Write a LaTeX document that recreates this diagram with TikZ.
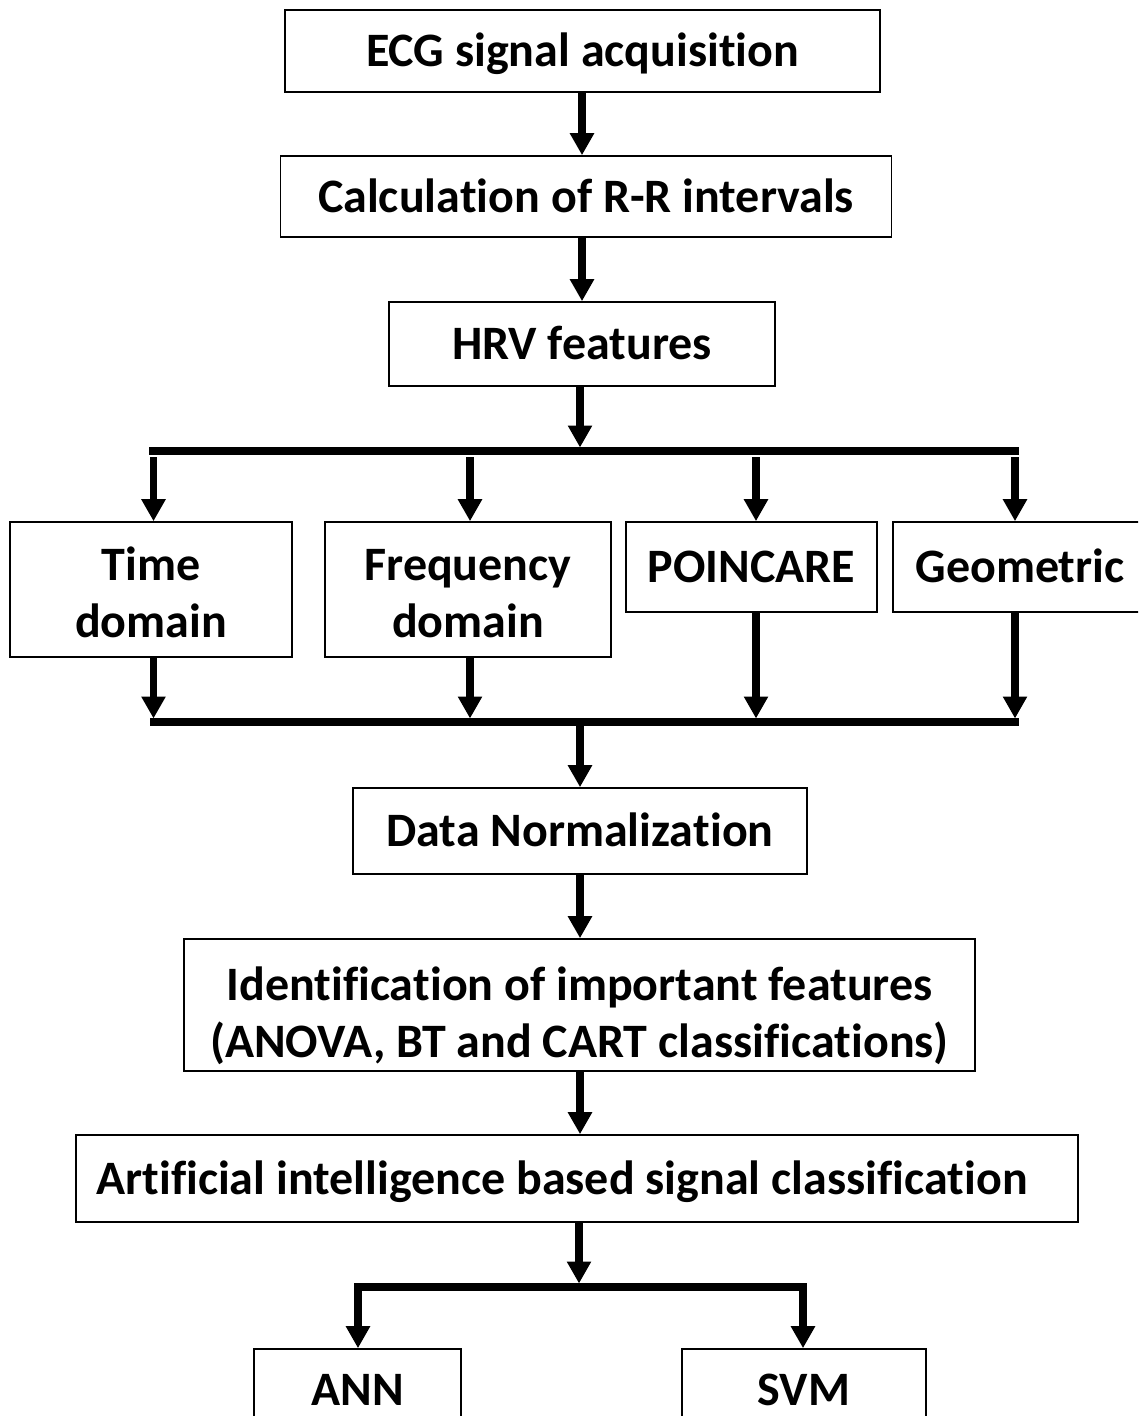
\documentclass[tikz,border=0pt]{standalone}
\usepackage{fontspec}
\setmainfont{Carlito}[Ligatures=NoCommon]
\usetikzlibrary{arrows.meta}
% breaks a letter pair so the font does not join it into a ligature
\newcommand\nolig{\kern0pt}

\tikzset{
  box/.style={draw, line width=1.6pt, inner sep=0pt, align=center,
    font=\bfseries\fontsize{48}{57}\selectfont,
    text height=31pt, text depth=0pt},
  twoline/.style={text height=88pt},
  arr/.style={line width=7.5pt, -{Triangle[width=23pt,length=22pt]}},
  bar/.style={line width=7.5pt}
}

\begin{document}
\begin{tikzpicture}[x=1pt,y=-1pt]
  \useasboundingbox (0,0) rectangle (1138,1416);
  \fill[white] (0,0) rectangle (1138,1416);
  \clip (0,0) rectangle (1138,1416);

  % main chain
  \node[box, minimum width=595pt, minimum height=82pt] (ecg) at (582.5,51) {ECG signal acquisition};
  \node[box, minimum width=611pt, minimum height=81pt] (calc) at (586,196.5) {Calcula\nolig tion of R-R intervals};
  \node[box, minimum width=386pt, minimum height=84pt] (hrv) at (582,344) {HRV features};

  % feature groups
  \node[box, twoline, text height=96pt, minimum width=282pt, minimum height=135pt] (time) at (151,589.5) {Time\\domain};
  \node[box, twoline, text height=96pt, minimum width=286pt, minimum height=135pt] (freq) at (468,589.5) {Frequency\\domain};
  \node[box, minimum width=251pt, minimum height=90pt] (poinc) at (751.5,567) {POINCARE};
  \node[box, minimum width=254pt, minimum height=90pt] (geom) at (1020,567) {Geometric};

  \node[box, minimum width=454pt, minimum height=86pt] (norm) at (580,831) {Data Normaliza\nolig tion};
  \node[box, twoline, text height=104pt, minimum width=791pt, minimum height=132pt] (ident) at (579.5,1005)
    {Identif\nolig ica\nolig tion of important features\\(ANOVA, BT and CART classif\nolig ica\nolig tions)};
  \node[box, minimum width=1002pt, minimum height=87pt] (ai) at (577,1178.5)
    {Art\nolig if\nolig icial intelligence based signal classif\nolig ica\nolig tion\hspace*{30pt}};

  \node[box, minimum width=207pt, minimum height=82pt] (ann) at (357.5,1390) {ANN};
  \node[box, minimum width=244pt, minimum height=82pt] (svm) at (804,1390) {SVM};

  % vertical links of the chain
  \draw[arr] (ecg.south -| 582,0) -- (calc.north -| 582,0);
  \draw[arr] (calc.south -| 582,0) -- (hrv.north -| 582,0);

  % split into the four feature groups
  \coordinate (tl) at (149,451);
  \coordinate (tr) at (1019,451);
  \coordinate (tm) at (580,447.5);
  \draw[arr] (hrv.south -| tm) -- (tm);
  \draw[bar] (tl) -- (tr);
  \coordinate (s1) at (153.5,457);
  \coordinate (s2) at (470,457);
  \coordinate (s3) at (756,457);
  \coordinate (s4) at (1015,457);
  \draw[arr] (s1) -- (s1 |- time.north);
  \draw[arr] (s2) -- (s2 |- freq.north);
  \draw[arr] (s3) -- (s3 |- poinc.north);
  \draw[arr] (s4) -- (s4 |- geom.north);

  % merge of the four groups
  \coordinate (bl) at (150,722);
  \coordinate (br) at (1019,722);
  \coordinate (m1) at (153.5,718.5);
  \coordinate (m2) at (470,718.5);
  \coordinate (m3) at (756,718.5);
  \coordinate (m4) at (1015,718.5);
  \draw[arr] (m1 |- time.south) -- (m1);
  \draw[arr] (m2 |- freq.south) -- (m2);
  \draw[arr] (m3 |- poinc.south) -- (m3);
  \draw[arr] (m4 |- geom.south) -- (m4);
  \draw[bar] (bl) -- (br);
  \coordinate (bm) at (580,725.5);
  \draw[arr] (bm) -- (bm |- norm.north);

  \draw[arr] (norm.south -| 580,0) -- (ident.north -| 580,0);
  \draw[arr] (ident.south -| 580,0) -- (ai.north -| 580,0);

  % split into the two classifiers
  \coordinate (cm) at (579,1283.5);
  \draw[arr] (ai.south -| cm) -- (cm);
  \coordinate (cl) at (354,1287);
  \coordinate (cr) at (807,1287);
  \draw[bar] (cl) -- (cr);
  \coordinate (c1) at (358,1287);
  \coordinate (c2) at (803,1287);
  \draw[arr] (c1) -- (c1 |- ann.north);
  \draw[arr] (c2) -- (c2 |- svm.north);
\end{tikzpicture}
\end{document}
